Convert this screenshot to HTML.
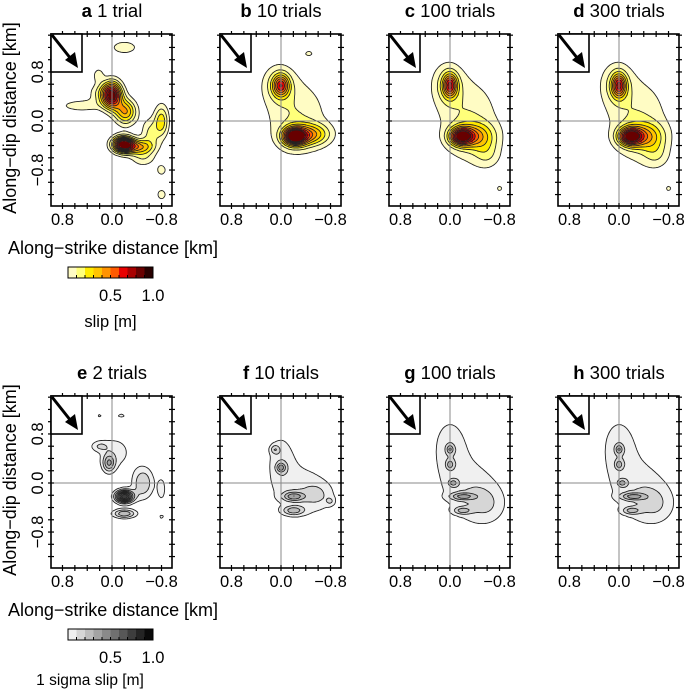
<!DOCTYPE html>
<html><head><meta charset="utf-8">
<style>
body{margin:0;background:#fff;}
svg{display:block;font-family:"Liberation Sans",sans-serif;}
</style></head>
<body>
<svg id="fig" width="685" height="690" viewBox="0 0 685 690" xmlns="http://www.w3.org/2000/svg"></svg>
<script>
// blobs: [strike km, dip km, amplitude m, sigma strike, sigma dip]
const blobsA = [[0.0,0.42,0.9,0.11,0.15],[-0.22,0.15,0.5,0.12,0.14],[-0.18,-0.38,1.0,0.12,0.09],[-0.42,-0.42,0.45,0.17,0.08],
  [-0.8,0.0,0.36,0.08,0.18],[-0.2,1.2,0.2,0.14,0.07],[0.22,0.75,0.16,0.06,0.08],[-0.8,-0.8,0.16,0.06,0.07],[-0.8,-1.2,0.16,0.06,0.07],
  [0.5,0.25,0.16,0.25,0.07],[-0.62,-0.2,0.22,0.1,0.17],[-0.5,-0.6,0.18,0.14,0.1],[0.15,0.45,0.2,0.15,0.12]];
const blobsB = [[0.0,0.58,0.55,0.09,0.12],[-0.22,-0.25,1.0,0.13,0.1],[-0.5,-0.22,0.4,0.2,0.12],[-0.25,0.05,0.2,0.35,0.45],[0.05,0.6,0.2,0.18,0.22],[-0.45,1.1,0.13,0.06,0.04]];
const blobsC = [[0.0,0.58,0.6,0.08,0.13],[-0.18,-0.25,0.85,0.13,0.1],[-0.45,-0.25,0.35,0.2,0.15],[-0.3,0.0,0.2,0.35,0.5],[0.05,0.6,0.2,0.18,0.25],[-0.6,-0.55,0.15,0.15,0.15],[-0.8,-1.1,0.14,0.04,0.04]];
const blobsD = [[0.0,0.58,0.6,0.08,0.13],[-0.18,-0.25,0.85,0.13,0.1],[-0.45,-0.25,0.35,0.2,0.15],[-0.3,0.0,0.2,0.35,0.5],[0.05,0.6,0.2,0.18,0.25],[-0.6,-0.55,0.15,0.15,0.15],[-0.8,-1.1,0.14,0.04,0.04]];
const blobsE = [[-0.2,-0.22,0.9,0.1,0.07],[0.05,0.32,0.35,0.07,0.1],[-0.2,-0.5,0.4,0.13,0.05],[0.2,0.6,0.17,0.1,0.06],[-0.5,0.0,0.3,0.12,0.18],[-0.8,-0.1,0.16,0.05,0.14],[-0.8,-0.55,0.14,0.04,0.03],[0.2,1.1,0.14,0.03,0.03],[-0.15,1.1,0.14,0.06,0.03],[-0.05,0.5,0.15,0.2,0.2]];
const blobsF = [[-0.2,-0.22,0.35,0.12,0.05],[-0.2,-0.45,0.3,0.12,0.05],[0.0,0.25,0.3,0.05,0.05],[0.1,0.55,0.2,0.05,0.05],[-0.3,-0.1,0.15,0.35,0.35],[0.0,0.4,0.15,0.15,0.3],[-0.6,-0.2,0.14,0.18,0.15],[-0.8,-0.3,0.13,0.05,0.05]];
const blobsG = [[-0.2,-0.22,0.3,0.14,0.04],[-0.2,-0.45,0.25,0.1,0.04],[0.0,0.55,0.25,0.04,0.05],[0.0,0.3,0.22,0.04,0.05],[-0.05,0.0,0.22,0.05,0.04],[-0.3,-0.1,0.16,0.35,0.4],[0.0,0.6,0.16,0.2,0.35],[-0.6,-0.35,0.15,0.22,0.22]];
const blobsH = [[-0.22,-0.22,0.3,0.14,0.04],[-0.2,-0.45,0.25,0.1,0.04],[0.0,0.55,0.25,0.04,0.05],[0.0,0.3,0.22,0.04,0.05],[-0.05,0.0,0.22,0.05,0.04],[-0.3,-0.1,0.16,0.35,0.4],[0.0,0.6,0.16,0.2,0.35],[-0.6,-0.35,0.15,0.22,0.22]];
const slipColors = ['#fffcc4','#ffff7a','#ffea00','#ffc400','#ff9300','#ff5a00','#e80000','#a80000','#680000','#280000'];
const grayColors = ['#f0f0f0','#d6d6d6','#bdbdbd','#a3a3a3','#8a8a8a','#707070','#575757','#3d3d3d','#242424','#0a0a0a'];
const levels = [0.1,0.2,0.3,0.4,0.5,0.6,0.7,0.8,0.9];
const xTickLabels = ['0.8','0.0','\u22120.8']; const xTickVals=[0.8,0,-0.8];
const titles = [['a','1 trial'],['b','10 trials'],['c','100 trials'],['d','300 trials'],['e','2 trials'],['f','10 trials'],['g','100 trials'],['h','300 trials']];
const allBlobs=[blobsA,blobsB,blobsC,blobsD,blobsE,blobsF,blobsG,blobsH];

const NS='http://www.w3.org/2000/svg';
const svg=document.getElementById('fig');
function el(tag,attrs,parent,txt){const e=document.createElementNS(NS,tag);for(const k in attrs)e.setAttribute(k,attrs[k]);if(txt!==undefined)e.textContent=txt;(parent||svg).appendChild(e);return e;}
const KX=61.9, KY=61.3, W=121, H=172;
const lefts=[51,220,389,558], tops=[34,396];

allBlobs.forEach((blobs,i)=>{
  const L=lefts[i%4], T=tops[Math.floor(i/4)];
  const x0=L+61, y0=T+87;
  const sx=s=>x0-s*KX, sy=d=>y0-d*KY;
  const g=el('g',{},svg);
  
  
  const f=(px,py)=>{const s=(x0-px)/KX,d=(y0-py)/KY;let v=0;for(const b of blobs){const a=(s-b[0])/b[3],c=(d-b[1])/b[4];v+=b[2]*Math.exp(-0.5*(a*a+c*c));}return v;};
  const step=2, nx=Math.ceil(W/step), ny=Math.ceil(H/step);
  const vals=[];for(let j=0;j<=ny;j++){const r=[];for(let k=0;k<=nx;k++)r.push(f(L+k*step,T+j*step));vals.push(r);}
  const colors=i<4?slipColors:grayColors;
  for(let li=1;li<=levels.length;li++){
    const lev=levels[li-1];
    let dstr='';
    for(let j=0;j<ny;j++)for(let k=0;k<nx;k++){const v=(vals[j][k]+vals[j][k+1]+vals[j+1][k]+vals[j+1][k+1])/4;if(v>=lev)dstr+='M'+(L+k*step)+' '+(T+j*step)+'h'+step+'v'+step+'h-'+step+'z';}
    if(dstr){const p=el('path',{d:dstr,fill:colors[li-1]},g);}
  }
  let ld='';
  for(const lev of levels){
    for(let j=0;j<ny;j++)for(let k=0;k<nx;k++){
      const c=[[L+k*step,T+j*step,vals[j][k]],[L+(k+1)*step,T+j*step,vals[j][k+1]],[L+(k+1)*step,T+(j+1)*step,vals[j+1][k+1]],[L+k*step,T+(j+1)*step,vals[j+1][k]]];
      const pts=[];
      for(let e=0;e<4;e++){const a=c[e],b=c[(e+1)%4];if((a[2]>=lev)!==(b[2]>=lev)){const t=(lev-a[2])/(b[2]-a[2]);pts.push([a[0]+t*(b[0]-a[0]),a[1]+t*(b[1]-a[1])]);}}
      for(let q=0;q+1<pts.length;q+=2)ld+='M'+pts[q][0].toFixed(1)+' '+pts[q][1].toFixed(1)+'L'+pts[q+1][0].toFixed(1)+' '+pts[q+1][1].toFixed(1);
    }
  }
  const cl=el('path',{d:ld,fill:'none',stroke:'#222','stroke-width':0.9},g);
  
  el('line',{x1:sx(0),x2:sx(0),y1:T,y2:T+H,stroke:'#888','stroke-width':1},g);
  el('line',{x1:L,x2:L+W,y1:sy(0),y2:sy(0),stroke:'#888','stroke-width':1},g);
  for(let t=-4;t<=4;t++){const x=sx(t*0.2);el('line',{x1:x,x2:x,y1:T-3,y2:T+3,stroke:'#000','stroke-width':1.2},g);el('line',{x1:x,x2:x,y1:T+H-3,y2:T+H+3,stroke:'#000','stroke-width':1.2},g);}
  for(let t=-6;t<=7;t++){const y=sy(t*0.2);if(y<T||y>T+H)continue;el('line',{x1:L-3,x2:L+3,y1:y,y2:y,stroke:'#000','stroke-width':1.2},g);el('line',{x1:L+W-3,x2:L+W+3,y1:y,y2:y,stroke:'#000','stroke-width':1.2},g);}
  const fr=el('rect',{x:L,y:T,width:W,height:H,fill:'none',stroke:'#000','stroke-width':1.6},g);
  
  el('rect',{x:L,y:T,width:31,height:38,fill:'#fff',stroke:'#000','stroke-width':1.6},g);
  el('line',{x1:L+1,y1:T+1,x2:L+20,y2:T+25,stroke:'#000','stroke-width':3},g);
  el('polygon',{points:`${L+27},${T+34} ${L+14},${T+26} ${L+24},${T+18}`,fill:'#000'},g);
  xTickVals.forEach((v,q)=>{const t=el('text',{x:sx(v),y:T+H+19,'font-size':16.5,'text-anchor':'middle'},g,xTickLabels[q]);});
  const tt=el('text',{x:x0,y:T-17,'font-size':18.5,'text-anchor':'middle'},g);
  
  el('tspan',{'font-weight':'bold'},tt,titles[i][0]);el('tspan',{},tt,' '+titles[i][1]);
  if(i%4===0){
    [0.8,0,-0.8].forEach((v,q)=>{const y=sy(v);const t=el('text',{x:0,y:0,'font-size':16.5,'text-anchor':'middle',transform:`translate(${L-8},${y}) rotate(-90)`},g,xTickLabels[q]);});
    const yt=el('text',{x:0,y:0,'font-size':18,'text-anchor':'middle',transform:`translate(16,${T+84}) rotate(-90)`},g,'Along\u2212dip distance [km]');
    
    const xt=el('text',{x:8,y:T+H+48,'font-size':18,textLength:210},g,'Along\u2212strike distance [km]');
    
    const cb=el('g',{},svg);
    const cy=T+233, cx=68, cw=85;
    colors.forEach((c,q)=>el('rect',{x:cx+q*cw/10,y:cy,width:cw/10+0.3,height:11,fill:c},cb));
    el('rect',{x:cx,y:cy,width:cw,height:11,fill:'none',stroke:'#000','stroke-width':1},cb);
    for(let q=1;q<10;q++)el('line',{x1:cx+q*cw/10,x2:cx+q*cw/10,y1:cy+11,y2:cy+8,stroke:'#000','stroke-width':1},cb);
    el('text',{x:cx+cw/2,y:cy+34,'font-size':16.5,'text-anchor':'middle'},cb,'0.5');
    el('text',{x:cx+cw,y:cy+34,'font-size':16.5,'text-anchor':'middle'},cb,'1.0');
    el('text',{x:i<4?cx+cw/2:cx+22,y:i<4?cy+60:cy+56,'font-size':i<4?16.5:15.5,'text-anchor':'middle'},cb,i<4?'slip [m]':'1 sigma slip [m]');
  }
});
</script>
</body></html>
